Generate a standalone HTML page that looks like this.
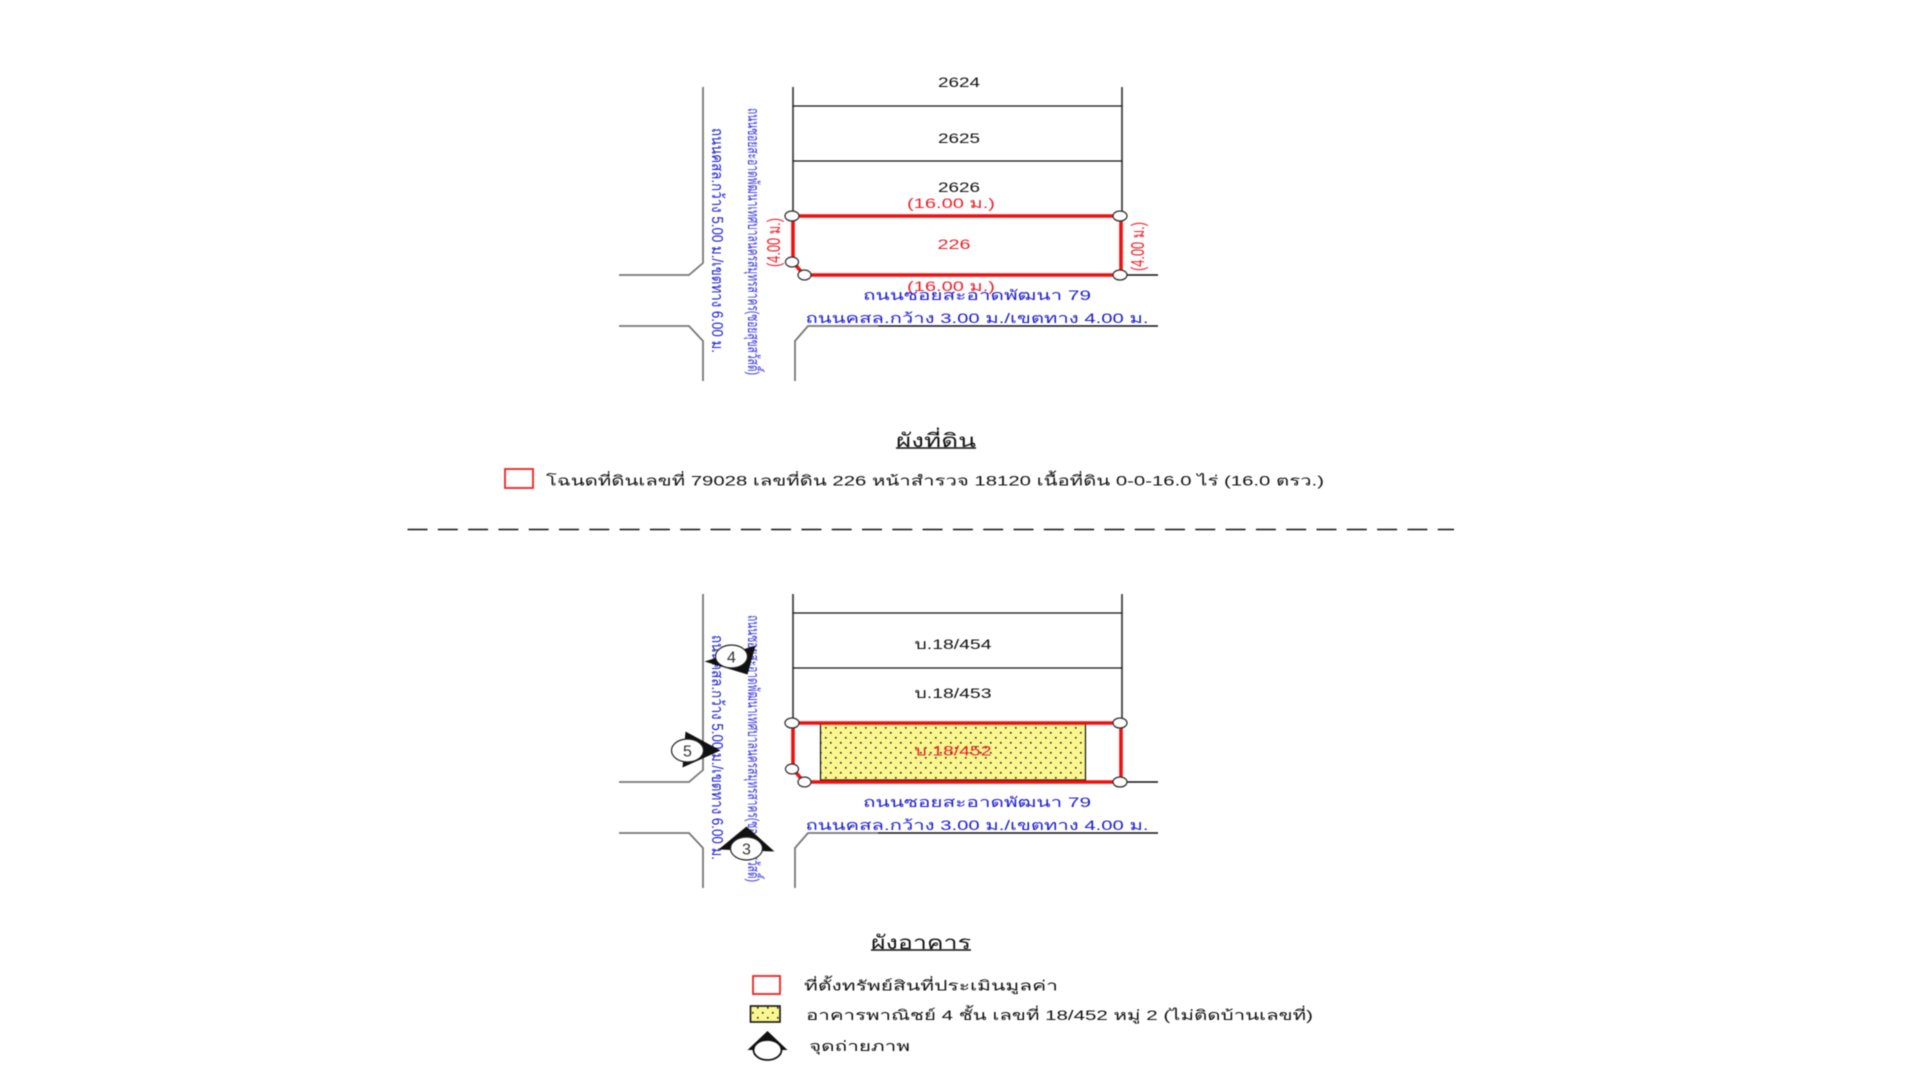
<!DOCTYPE html>
<html><head><meta charset="utf-8"><style>
html,body{margin:0;padding:0;background:#fff;width:1920px;height:1080px;overflow:hidden}
svg{display:block;filter:blur(0.6px)}
text{font-family:"Liberation Sans","DejaVu Sans","WenQuanYi Zen Hei","Noto Sans CJK SC",sans-serif;font-size:14px;fill:#111}
.r{fill:#e8212a}.b{fill:#1c1cd0}.bl{fill:#3535dd;font-size:16px}.vb{font-size:16px;fill:#1c1cd0}.vr{font-size:18px;fill:#e8212a}
.n{font-size:16px;fill:#333}
</style></head><body>
<svg width="1920" height="1080" viewBox="0 0 1920 1080" xmlns="http://www.w3.org/2000/svg">
<defs>
<pattern id="d" width="10" height="10" patternUnits="userSpaceOnUse"><rect width="10" height="10" fill="#fbf78e"/><rect x="2" y="2" width="1.6" height="1.6" fill="#222"/><rect x="7" y="7" width="1.6" height="1.6" fill="#222"/></pattern>
</defs>

<!-- top diagram -->
<g transform="translate(-2,0)">
<g fill="none">
<path d="M705 87V263L691 275H621M621 326H691L705 341V381M797 381V341L810 326H880" stroke="#777" stroke-width="1.8"/>
<path d="M880 326H1160M1124 275H1160" stroke="#111" stroke-width="1.4"/>
<path d="M795 87V216M1124 87V216" stroke="#444" stroke-width="1.8"/>
<path d="M795 106H1124M795 161H1124" stroke="#111" stroke-width="1.3"/>
</g>
<text x="961" y="87" text-anchor="middle" textLength="42" lengthAdjust="spacingAndGlyphs">2624</text>
<text x="961" y="143" text-anchor="middle" textLength="42" lengthAdjust="spacingAndGlyphs">2625</text>
<text x="961" y="192" text-anchor="middle" textLength="42" lengthAdjust="spacingAndGlyphs">2626</text>
<text class="r" x="953" y="208" text-anchor="middle" textLength="88" lengthAdjust="spacingAndGlyphs">(16.00 ม.)</text>
<text class="r" x="956" y="249" text-anchor="middle" textLength="33" lengthAdjust="spacingAndGlyphs">226</text>
<text class="r" x="953" y="291" text-anchor="middle" textLength="88" lengthAdjust="spacingAndGlyphs">(16.00 ม.)</text>
<path d="M795 216H1123V275H806L795 262Z" fill="none" stroke="#ee1111" stroke-width="3.6"/>
<g fill="#fff" stroke="#333" stroke-width="1.3">
<ellipse cx="794" cy="216" rx="7" ry="5"/><ellipse cx="1122" cy="216" rx="7" ry="5"/><ellipse cx="794" cy="262" rx="6.5" ry="5"/><ellipse cx="806.5" cy="275" rx="6.5" ry="5"/><ellipse cx="1122" cy="275" rx="7" ry="5"/>
</g>
<text class="b" x="979" y="300" text-anchor="middle" textLength="228" lengthAdjust="spacingAndGlyphs">ถนนซอยสะอาดพัฒนา 79</text>
<text class="b" x="979" y="323" text-anchor="middle" textLength="343" lengthAdjust="spacingAndGlyphs">ถนนคสล.กว้าง 3.00 ม./เขตทาง 4.00 ม.</text>
<text class="vb" transform="translate(714,128) rotate(90)" textLength="225" lengthAdjust="spacingAndGlyphs">ถนนคสล.กว้าง 5.00 ม./เขตทาง 6.00 ม.</text>
<text class="bl" transform="translate(750,108) rotate(90)" textLength="267" lengthAdjust="spacingAndGlyphs">ถนนซอยสะอาดพัฒนาเทศบาลนครสมุทรสาคร(ซอยสุขสวัสดิ์)</text>
<text class="vr" transform="translate(782,267) rotate(-90)" textLength="49" lengthAdjust="spacingAndGlyphs">(4.00 ม.)</text>
<text class="vr" transform="translate(1146,271) rotate(-90)" textLength="49" lengthAdjust="spacingAndGlyphs">(4.00 ม.)</text>
</g>

<!-- legend 1 -->
<text x="896" y="447" textLength="80" lengthAdjust="spacingAndGlyphs" style="font-size:19px;fill:#111">ผังที่ดิน</text>
<path d="M896 448H976" stroke="#111" stroke-width="1.4"/>
<rect x="505" y="469" width="28" height="19" fill="#fff" stroke="#e22" stroke-width="1.8"/>
<text x="546" y="485.5" textLength="778" lengthAdjust="spacingAndGlyphs">โฉนดที่ดินเลขที่ 79028 เลขที่ดิน 226 หน้าสำรวจ 18120 เนื้อที่ดิน 0-0-16.0 ไร่ (16.0 ตรว.)</text>
<path d="M407.5 529.5H1454" stroke="#111" stroke-width="1.6" stroke-dasharray="20 10.3"/>

<!-- bottom diagram -->
<g transform="translate(-2,0)">
<g fill="none">
<path d="M705 594V770L691 782H621M621 833H691L705 848V888M797 888V848L810 833H880" stroke="#777" stroke-width="1.8"/>
<path d="M880 833H1160M1124 782H1160" stroke="#111" stroke-width="1.4"/>
<path d="M795 594V723M1124 594V723" stroke="#444" stroke-width="1.8"/>
<path d="M795 613H1124M795 668H1124" stroke="#111" stroke-width="1.3"/>
</g>
<text x="955" y="649" text-anchor="middle" textLength="77" lengthAdjust="spacingAndGlyphs">บ.18/454</text>
<text x="955" y="698" text-anchor="middle" textLength="77" lengthAdjust="spacingAndGlyphs">บ.18/453</text>
<rect x="822.5" y="724" width="265" height="56" fill="url(#d)" stroke="#111" stroke-width="1.2"/>
<text class="r" x="955" y="755.5" text-anchor="middle" textLength="77" lengthAdjust="spacingAndGlyphs">บ.18/452</text>
<path d="M795 723H1123V782H806L795 769Z" fill="none" stroke="#ee1111" stroke-width="3.6"/>
<g fill="#fff" stroke="#333" stroke-width="1.3">
<ellipse cx="794" cy="723" rx="7" ry="5"/><ellipse cx="1122" cy="723" rx="7" ry="5"/><ellipse cx="794" cy="769" rx="6.5" ry="5"/><ellipse cx="806.5" cy="782" rx="6.5" ry="5"/><ellipse cx="1122" cy="782" rx="7" ry="5"/>
</g>
<text class="b" x="979" y="807" text-anchor="middle" textLength="228" lengthAdjust="spacingAndGlyphs">ถนนซอยสะอาดพัฒนา 79</text>
<text class="b" x="979" y="830" text-anchor="middle" textLength="343" lengthAdjust="spacingAndGlyphs">ถนนคสล.กว้าง 3.00 ม./เขตทาง 4.00 ม.</text>
<text class="vb" transform="translate(714,635) rotate(90)" textLength="225" lengthAdjust="spacingAndGlyphs">ถนนคสล.กว้าง 5.00 ม./เขตทาง 6.00 ม.</text>
<text class="bl" transform="translate(750,615) rotate(90)" textLength="267" lengthAdjust="spacingAndGlyphs">ถนนซอยสะอาดพัฒนาเทศบาลนครสมุทรสาคร(ซอยสุขสวัสดิ์)</text>
</g>

<!-- markers -->
<g transform="translate(-0.5,-0.5)">
<path d="M705 662L756 646L748 675Z" fill="#111"/>
<ellipse cx="732" cy="657" rx="16" ry="11.5" fill="#fff" stroke="#222" stroke-width="1.2"/>
<text class="n" x="732" y="663" text-anchor="middle">4</text>
<path d="M686 732L683 768L721 751Z" fill="#111"/>
<ellipse cx="688" cy="751" rx="16" ry="11.5" fill="#fff" stroke="#222" stroke-width="1.2"/>
<text class="n" x="688" y="757" text-anchor="middle">5</text>
<path d="M747 827L719 850L775 852Z" fill="#111"/>
<ellipse cx="747" cy="849" rx="16" ry="11.5" fill="#fff" stroke="#222" stroke-width="1.2"/>
<text class="n" x="747" y="855" text-anchor="middle">3</text>
</g>

<!-- legend 2 -->
<text x="871" y="949" textLength="100" lengthAdjust="spacingAndGlyphs" style="font-size:19px;fill:#111">ผังอาคาร</text>
<path d="M871 950H971" stroke="#111" stroke-width="1.4"/>
<rect x="753" y="976" width="27" height="18" fill="#fff" stroke="#e22" stroke-width="1.8"/>
<text x="804" y="990.5" textLength="254" lengthAdjust="spacingAndGlyphs">ที่ตั้งทรัพย์สินที่ประเมินมูลค่า</text>
<rect x="750.5" y="1006" width="29.5" height="16" fill="url(#d)" stroke="#111" stroke-width="1.6"/>
<text x="806" y="1020" textLength="507" lengthAdjust="spacingAndGlyphs">อาคารพาณิชย์ 4 ชั้น เลขที่ 18/452 หมู่ 2 (ไม่ติดบ้านเลขที่)</text>
<path d="M767.5 1031L747.5 1050L787.5 1050Z" fill="#111"/>
<ellipse cx="767.5" cy="1050" rx="14" ry="10" fill="#fff" stroke="#111" stroke-width="1.8"/>
<text x="809" y="1051" textLength="101" lengthAdjust="spacingAndGlyphs">จุดถ่ายภาพ</text>
</svg>
</body></html>
